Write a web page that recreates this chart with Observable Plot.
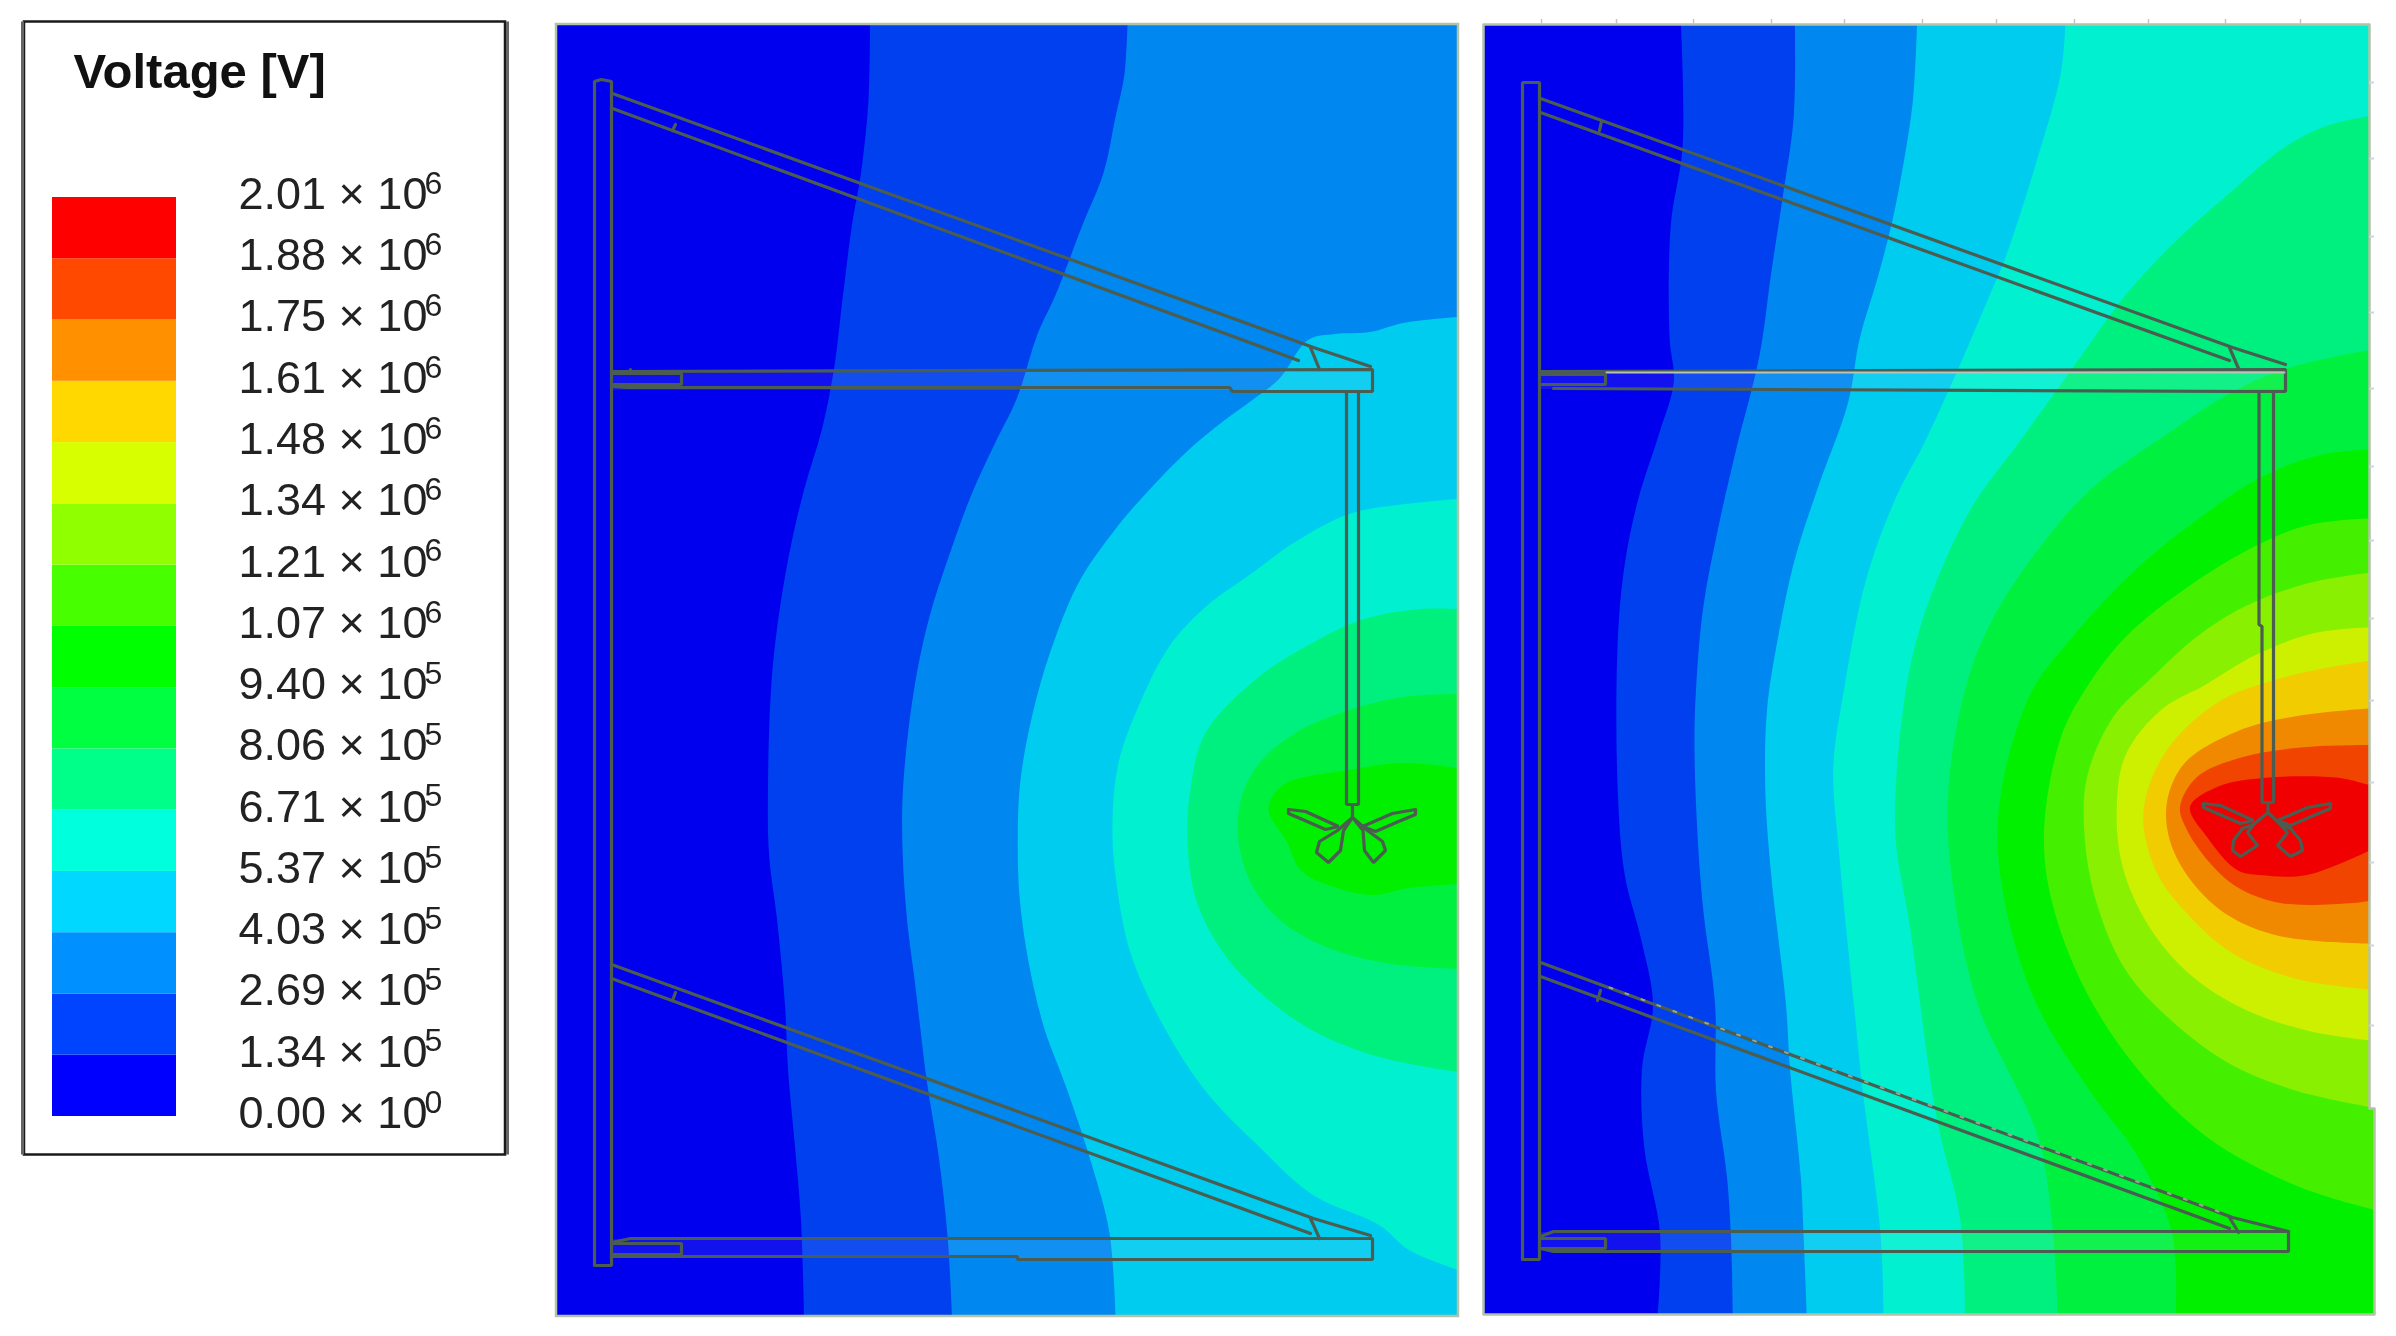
<!doctype html>
<html><head><meta charset="utf-8">
<script src="https://cdn.jsdelivr.net/npm/d3@7"></script>
<script src="https://cdn.jsdelivr.net/npm/@observablehq/plot@0.6"></script>
<style>html,body{margin:0;padding:0;background:#fff;width:2396px;height:1336px;overflow:hidden}
#chart{position:relative;width:2396px;height:1336px}#chart>svg{position:absolute;left:0;top:0}</style>
</head><body><div id="chart"></div>
<script>
const title = "Voltage [V]";
const mantissas = ["0.00","1.34","2.69","4.03","5.37","6.71","8.06","9.40","1.07","1.21","1.34","1.48","1.61","1.75","1.88","2.01"];
const exponents = ["0","5","5","5","5","5","5","5","6","6","6","6","6","6","6","6"];
const legendColors = ["#0000ff","#0044ff","#0090ff","#00d8ff","#00ffdc","#00ff88","#00ff40","#00ff00","#48ff00","#90ff00","#d8ff00","#ffd800","#ff9000","#ff4800","#ff0000"];
const fieldColors = ["#0000ee","#0040ee","#0088f0","#00ccf0","#00f0d0","#00f080","#00f040","#00f000","#44f000","#88f000","#ccf000","#f0cc00","#f08800","#f04400","#f00000"];

// Band boundaries: left panel. Index = band above the boundary.
const leftBoundaries = [
 [[870,24],[868.5,100],[861,173],[852,225],[843,295],[834,369],[822,429],[804,490],[789,555],[777,629],[771,690],[768,789],[769,854],[777,919],[785,1005],[788,1069],[795,1147],[801,1220],[804,1316]],
 [[1127.5,24],[1124.5,74],[1115.5,117],[1103.5,173],[1082.5,225],[1055.6,295],[1037.6,334],[1016.6,399],[995.6,442],[971.7,494],[950.7,551],[929.7,616],[914,690],[903,789],[902.7,854],[907,919],[915,983],[927,1082],[938.7,1156],[947.7,1238],[952,1316]],
 [[1458,317],[1403,323],[1370,332],[1335,334],[1308,340],[1280,378],[1256.4,397],[1223.5,421],[1187.5,451],[1145.5,494],[1115.5,529],[1079.6,581],[1055.6,637],[1036,700],[1021,776],[1017.8,832],[1019.6,897],[1028.6,962],[1043.6,1026],[1067.6,1091],[1091.6,1164],[1109.5,1233],[1115.5,1316]],
 [[1458,499],[1397,505],[1349,514],[1295,542],[1253.5,572],[1205.5,607],[1169.5,646],[1140,703],[1118.5,763],[1112.5,824],[1115.5,875],[1130.5,953],[1163.5,1026],[1205.5,1091],[1259.4,1147],[1313,1195],[1379,1225],[1409,1250],[1458,1270]],
 [[1458,609],[1421,609],[1361,620],[1307,646],[1260,676],[1205.5,733],[1190.5,789],[1187.5,841],[1196.5,901],[1223.5,953],[1259.4,992],[1313.4,1031],[1379.3,1057],[1458,1072]],
 [[1458,694],[1403,697],[1343,712],[1295.4,733],[1259.4,763],[1241.4,798],[1238.4,841],[1253.5,888],[1283.4,923],[1331.4,949],[1391.3,964],[1458,969]],
 [[1458,768],[1403,763],[1349,770],[1283.4,785],[1268.4,809],[1286.4,841],[1301.4,871],[1337.3,888],[1373.3,895],[1409.3,888],[1458,884]]
];
// Band boundaries: right panel.
const rightBoundaries = [
 [[1680.9,24],[1682.6,147],[1670.8,225],[1669.6,338],[1673.8,382],[1659,434],[1638.3,499],[1624.8,564],[1617.7,642],[1617.7,789],[1624.8,875],[1641.3,940],[1653,1005],[1642,1069],[1644.2,1147],[1660,1233],[1657.8,1314]],
 [[1794.9,24],[1793.7,117],[1783,195],[1771.2,273],[1759.4,356],[1735.8,451],[1718,529],[1703.3,607],[1696,690],[1694.5,746],[1697.4,832],[1703.3,910],[1715.1,1005],[1716,1091],[1727,1177],[1731,1238],[1732.8,1314]],
 [[1917.1,24],[1913,100],[1904.1,160],[1892.3,221],[1877.6,278],[1859.8,338],[1848,403],[1818.5,486],[1794.9,559],[1777.2,642],[1767,710],[1765.3,789],[1771.2,875],[1786,1005],[1790,1069],[1800.8,1177],[1803.7,1238],[1806.7,1314]],
 [[2065.4,24],[2060.7,74],[2037,160],[2004.6,260],[1989.8,295],[1960.3,364],[1924.8,442],[1895.3,499],[1865.7,581],[1844,690],[1833.3,768],[1839.2,854],[1854,1005],[1862.8,1091],[1880.5,1233],[1883.5,1314]],
 [[2375,115],[2326.5,126],[2285,147],[2232,191],[2179,238],[2125.6,295],[2078.4,360],[2019.3,442],[1972,507],[1936.6,581],[1916,642],[1903,710],[1895.3,832],[1910,927],[1936.6,1117],[1960.3,1220],[1965,1314]],
 [[2375,349],[2338.3,356],[2285,369],[2232,392],[2167,434],[2090,490],[2037,551],[1990,624],[1965,690],[1948.4,789],[1951.4,875],[1978,1005],[2037,1134],[2051.8,1220],[2057.7,1314]],
 [[2375,449],[2320.6,455],[2261.5,477],[2202.4,516],[2137.5,568],[2072.5,637],[2030,695],[1998.6,811],[2004.6,901],[2037,1005],[2090,1091],[2137.5,1156],[2172,1233],[2175.8,1314]],
 [[2375,518],[2308.7,525],[2255.6,546],[2190.6,585],[2125.6,637],[2085,690],[2060.7,738],[2044,832],[2051.8,901],[2084.3,988],[2137.5,1069],[2208.3,1138],[2297,1186],[2375,1210]],
 [[2375,572],[2308.7,583],[2243.8,607],[2196.5,637],[2149.3,680],[2113.8,716],[2087.3,776],[2084.3,832],[2096,901],[2125.6,970],[2172.9,1022],[2232,1065],[2297,1091],[2375,1108]],
 [[2375,627],[2314.6,633],[2255.6,655],[2205,685],[2161,710],[2125.6,755],[2116.8,807],[2122.7,867],[2149.3,927],[2190.6,975],[2243.8,1009],[2308.7,1031],[2375,1041]],
 [[2375,660],[2320.6,669],[2267.4,682],[2220,701],[2173,742],[2149.3,785],[2143.4,824],[2158,875],[2187.6,914],[2232,953],[2297,979],[2375,990]],
 [[2375,708],[2297,716],[2238,731],[2184.7,763],[2167,802],[2170,841],[2190.6,880],[2226,914],[2279,936],[2375,944]],
 [[2375,745],[2307,747],[2243,757],[2197,777],[2180,807],[2187,830],[2210,863],[2237,887],[2280,903],[2353,903],[2375,900]],
 [[2375,787],[2340,778],[2263,778],[2217,787],[2190,807],[2207,837],[2237,870],[2260,875],[2307,875],[2375,848]]
];
// Extent of each field: [left, top, right, bottom]
const leftExtent = [556,24,1458,1316];
const rightExtent = [1483,24,2374,1314];
const rightNotch = [2369,22,2377,1108];
const rightFrame = [[1483,24],[2369,24],[2369,1108],[2374,1108],[2374,1314],[1483,1314],[1483,24]];
const legendBox = [24,21.5,505,1154.5];

// Outline of the reactor geometry, one polyline per entry.
const leftWires = [
 [[594,1265],[594,81],[601,79],[611,81],[611,1265],[594,1265]],
 [[612,93],[1313,347],[1370,366]],
 [[612,108],[1298,360]],
 [[675,124],[672,130]],[[1310,347],[1319,369]],
 [[611,371],[1372,369],[1372,391],[1232,391],[1229,387],[627,387]],
 [[611,386],[627,387]],
 [[630,369],[630,373]],
 [[612,373],[681,373],[681,384],[612,384]],
 [[1346,391],[1346,804],[1358,804],[1358,391]],
 [[1352,804],[1352,817]],
 [[1288,809],[1305,811],[1338,826],[1325,829],[1302,819],[1288,813],[1288,809]],
 [[1415,809],[1392,813],[1362,826],[1375,831],[1398,821],[1415,814],[1415,809]],
 [[1352,817],[1337,830],[1319,841],[1316,852],[1328,862],[1340,850],[1343,830],[1352,817]],
 [[1352,817],[1367,830],[1382,841],[1385,850],[1373,862],[1364,850],[1362.5,830],[1352,817]],
 [[611,964],[1313,1218],[1370,1235]],
 [[611,978],[1310,1233]],
 [[675,992],[672,1000]],[[1310,1218],[1319,1238]],
 [[611,1242],[630,1238],[1372,1238],[1372,1259],[1017,1259],[1017,1256],[627,1256],[611,1256]],
 [[612,1243],[681,1243],[681,1254],[612,1254]]
];
const rightWires = [
 [[1522,1259],[1522,82],[1539,82],[1539,1259],[1522,1259]],
 [[1540,98],[2232,347],[2285,364]],
 [[1540,112],[2229,360]],
 [[1601,121],[1599,130]],[[2229,347],[2238,368]],
 [[1540,371],[2285,369],[2285,391],[2235,391],[1553,388]],
 [[1540,374],[1605,374],[1605,384],[1540,384]],
 [[2258.5,391],[2258.5,624],[2261.5,626],[2261.5,802],[2273,802],[2273,391]],
 [[2267.5,802],[2267.5,812]],
 [[2203,803],[2220,805],[2253,820],[2240,823],[2217,813],[2203,807],[2203,803]],
 [[2330,803],[2307,807],[2277,820],[2290,825],[2313,815],[2330,808],[2330,803]],
 [[2267.5,812],[2253,824],[2242,828],[2233,840],[2232,850],[2240,856],[2257,845],[2247,832],[2253,824]],
 [[2267.5,812],[2280,824],[2290,828],[2300,840],[2302,850],[2290,856],[2277,845],[2287,832],[2280,824]],
 [[1540,962],[2232,1217],[2288,1231]],
 [[1540,976],[2229,1228]],
 [[1600,990],[1597,1000]],[[2229,1217],[2238,1232]],
 [[1540,1236],[1553,1231],[2288,1231],[2288,1251],[1553,1251],[1540,1248]],
 [[1540,1238],[1605,1238],[1605,1248],[1540,1248]]
];
const leftPlates = [[612,372,1371,390],[612,1239,1371,1258]];
const rightPlates = [[1540,372,2284,389],[1540,1232,2287,1250]];
const rightHighlight = [[1606,372],[2284,372]];
const rightDotted = [[1609,987],[2226,1214]];
const topTicks = [1541,1616,1693,1771,1844,1922,1996,2074,2148,2225,2300];
const sideTicks = [82,158,236,312,388,466,540,618,700,782,862,945,1025];

const bandRows = (list) => list.flatMap((pts,i)=>pts.map(([x,y])=>({level:i+1,x,y})));
const wireRows = (list) => list.flatMap((pts,i)=>pts.map(([x,y])=>({id:i,x,y})));
const ext = (e,level=0)=>[{x1:e[0],y1:e[1],x2:e[2],y2:e[3],level}];

const colorScale = {type:"ordinal",domain:d3.range(15),range:fieldColors};
const wireStyle = {x:"x",y:"y",z:"id",stroke:"#4b5d50",strokeWidth:3.2,curve:"linear",strokeLinejoin:"miter"};

const field = Plot.plot({
  width:2396,height:1336,margin:0,
  x:{domain:[0,2396],range:[0,2396],axis:null},
  y:{domain:[0,1336],range:[0,1336],axis:null},
  color:colorScale,
  style:{background:"transparent",filter:"blur(0.6px)"},
  marks:[
    Plot.rect(ext(leftExtent),{x1:"x1",x2:"x2",y1:"y1",y2:"y2",fill:"level"}),
    Plot.rect(ext(rightExtent),{x1:"x1",x2:"x2",y1:"y1",y2:"y2",fill:"level"}),
    Plot.areaX(bandRows(leftBoundaries),{y:"y",x1:"x",x2:()=>leftExtent[2],z:"level",fill:"level",curve:"catmull-rom"}),
    Plot.areaX(bandRows(rightBoundaries),{y:"y",x1:"x",x2:()=>rightExtent[2],z:"level",fill:"level",curve:"catmull-rom"}),
    Plot.rect([rightNotch],{x1:d=>d[0],y1:d=>d[1],x2:d=>d[2],y2:d=>d[3],fill:"#fff"}),
    Plot.rect(ext(leftExtent),{x1:"x1",x2:"x2",y1:"y1",y2:"y2",stroke:"#b4c2a8",strokeWidth:2.5,fill:"none"}),
    Plot.line(rightFrame,{x:d=>d[0],y:d=>d[1],stroke:"#b4c2a8",strokeWidth:2.5}),
    Plot.ruleX(topTicks,{y1:()=>19,y2:()=>24,stroke:"#c4c4c4",strokeWidth:1.5}),
    Plot.ruleY(sideTicks,{x1:()=>2369,x2:()=>2374,stroke:"#cfd4e4",strokeWidth:2}),
    Plot.rect(leftPlates.concat(rightPlates),{x1:d=>d[0],y1:d=>d[1],x2:d=>d[2],y2:d=>d[3],fill:"#fff",fillOpacity:0.07}),
    Plot.line(wireRows(leftWires),wireStyle),
    Plot.line(wireRows(rightWires),wireStyle),
    Plot.line(rightDotted,{x:d=>d[0],y:d=>d[1],stroke:"#c4cdb4",strokeWidth:2,strokeDasharray:"3 14",strokeOpacity:0.65}),
    Plot.line(rightHighlight,{x:d=>d[0],y:d=>d[1],stroke:"#b8c4b8",strokeWidth:2}),
    Plot.rect([legendBox],{x1:d=>d[0],y1:d=>d[1],x2:d=>d[2],y2:d=>d[3],fill:"#fff",stroke:"#1a1a1a",strokeWidth:2.5}),
    Plot.ruleX([legendBox[0]-2,legendBox[2]+2],{y1:()=>legendBox[1],y2:()=>legendBox[3],stroke:"#666",strokeWidth:3})
  ]
});

const swatches = d3.range(15).map(i=>({i}));
const labels = mantissas.map((m,i)=>({i,m,e:exponents[i]}));
const labelFont = {fontFamily:"'Liberation Sans',Arial,sans-serif",fill:"#222",textAnchor:"start",stroke:"none"};
const legend = Plot.plot({
  width:540,height:1180,margin:0,
  x:{domain:[0,540],range:[0,540],axis:null},
  y:{domain:[0,15],range:[1116,197],axis:null},
  color:{type:"ordinal",domain:d3.range(15),range:legendColors},
  style:{background:"transparent",filter:"blur(0.5px)"},
  marks:[
    Plot.rect(swatches,{x1:()=>52,x2:()=>176,y1:d=>d.i,y2:d=>d.i+1,fill:"i"}),
    Plot.text(labels,{x:()=>238,y:"i",dy:-3,text:d=>`${d.m} × 10`,fontSize:45,...labelFont}),
    Plot.text(labels,{x:()=>424,y:"i",dy:-14,text:"e",fontSize:32,...labelFont}),
    Plot.text([title],{x:()=>73,y:()=>17.04,fontSize:49,fontWeight:"bold",...labelFont,fill:"#111"})
  ]
});
document.getElementById("chart").append(field,legend);
</script></body></html>
